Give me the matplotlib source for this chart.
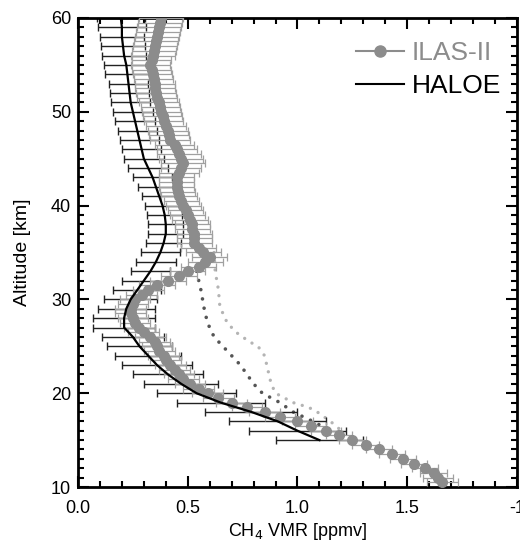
import numpy as np
import matplotlib
matplotlib.use("Agg")
import matplotlib.pyplot as plt
from matplotlib.lines import Line2D
from matplotlib.ticker import MultipleLocator

plt.rcParams["font.family"] = ["Liberation Sans", "DejaVu Sans"]

# ---- HALOE profile (ppmv) ----
haloe_alt = [15, 16, 17, 18, 19, 20, 21, 22, 23, 24, 25, 26, 27, 28, 29, 30,
             31, 32, 33, 34, 35, 36, 37, 38, 39, 40, 41, 42, 43, 44, 45, 46,
             47, 48, 49, 50, 51, 52, 53, 54, 55, 56, 57, 58, 59, 60]
haloe_vmr = [1.10, 1.00, 0.91, 0.79, 0.65, 0.54, 0.47, 0.41, 0.36, 0.32, 0.28,
             0.25, 0.21, 0.21, 0.22, 0.24, 0.27, 0.30, 0.33, 0.355, 0.375, 0.39,
             0.40, 0.40, 0.395, 0.385, 0.37, 0.355, 0.34, 0.32, 0.30, 0.29, 0.28,
             0.27, 0.26, 0.25, 0.24, 0.235, 0.23, 0.225, 0.22, 0.21, 0.205, 0.20,
             0.20, 0.195]
haloe_err = [0.20, 0.22, 0.22, 0.21, 0.20, 0.18, 0.17, 0.16, 0.16, 0.15, 0.15,
             0.14, 0.14, 0.14, 0.13, 0.12, 0.11, 0.10, 0.09, 0.09, 0.09, 0.08,
             0.08, 0.08, 0.08, 0.08, 0.08, 0.08, 0.09, 0.09, 0.09, 0.09, 0.09,
             0.09, 0.09, 0.09, 0.09, 0.09, 0.09, 0.10, 0.10, 0.10, 0.10, 0.10,
             0.11, 0.11]

# ---- ILAS-II profile (ppmv) ----
ilas_alt = [10.5, 11, 11.5, 12, 12.5, 13, 13.5, 14, 14.5, 15, 15.5, 16, 16.5,
            17, 17.5, 18, 18.5, 19, 19.5, 20, 20.5, 21, 21.5, 22, 22.5, 23,
            23.5, 24, 24.5, 25, 25.5, 26, 26.5, 27, 27.5, 28, 28.5, 29, 29.5,
            30, 30.5, 31, 31.5, 32, 32.5, 33, 33.5, 34, 34.5, 35, 35.5, 36,
            36.5, 37, 37.5, 38, 38.5, 39, 39.5, 40, 40.5, 41, 41.5, 42, 42.5,
            43, 43.5, 44, 44.5, 45, 45.5, 46, 46.5, 47, 47.5, 48, 48.5, 49,
            49.5, 50, 50.5, 51, 51.5, 52, 52.5, 53, 53.5, 54, 54.5, 55, 55.5,
            56, 56.5, 57, 57.5, 58, 58.5, 59, 59.5, 60]
ilas_vmr = [1.66, 1.64, 1.62, 1.58, 1.53, 1.48, 1.43, 1.37, 1.31, 1.25, 1.19,
            1.13, 1.06, 1.00, 0.92, 0.85, 0.77, 0.70, 0.64, 0.59, 0.55, 0.51,
            0.48, 0.46, 0.44, 0.42, 0.40, 0.39, 0.37, 0.36, 0.35, 0.33, 0.30,
            0.28, 0.26, 0.25, 0.24, 0.24, 0.25, 0.26, 0.29, 0.32, 0.36, 0.41,
            0.46, 0.50, 0.55, 0.58, 0.60, 0.57, 0.55, 0.53, 0.53, 0.53, 0.52,
            0.52, 0.51, 0.50, 0.49, 0.48, 0.47, 0.46, 0.455, 0.45, 0.45, 0.45,
            0.46, 0.47, 0.48, 0.47, 0.46, 0.45, 0.44, 0.42, 0.415, 0.41, 0.40,
            0.39, 0.385, 0.38, 0.375, 0.37, 0.36, 0.355, 0.35, 0.35, 0.345,
            0.34, 0.335, 0.33, 0.335, 0.34, 0.345, 0.35, 0.355, 0.36, 0.365,
            0.37, 0.375, 0.38]
ilas_err = [0.07, 0.07, 0.06, 0.06, 0.06, 0.06, 0.06, 0.06, 0.06, 0.06, 0.06,
            0.07, 0.07, 0.07, 0.07, 0.07, 0.07, 0.07, 0.07, 0.07, 0.07, 0.07,
            0.07, 0.07, 0.07, 0.07, 0.07, 0.07, 0.07, 0.07, 0.07, 0.07, 0.07,
            0.07, 0.07, 0.07, 0.07, 0.07, 0.07, 0.07, 0.07, 0.07, 0.08, 0.08,
            0.08, 0.08, 0.08, 0.08, 0.08, 0.08, 0.08, 0.08, 0.08, 0.08, 0.08,
            0.08, 0.08, 0.08, 0.08, 0.08, 0.08, 0.08, 0.08, 0.08, 0.08, 0.08,
            0.09, 0.09, 0.10, 0.10, 0.10, 0.09, 0.09, 0.09, 0.09, 0.09, 0.09,
            0.09, 0.09, 0.09, 0.09, 0.09, 0.09, 0.09, 0.09, 0.09, 0.09, 0.09,
            0.09, 0.09, 0.09, 0.10, 0.10, 0.10, 0.10, 0.10, 0.10, 0.10, 0.10,
            0.10]

# ---- dotted reference profiles ----
dark_alt = [33, 31, 29, 27.5, 26, 25, 24, 23, 22, 21, 20, 19, 18, 17, 16]
dark_vmr = [0.54, 0.56, 0.575, 0.59, 0.62, 0.66, 0.70, 0.74, 0.77, 0.80, 0.84,
            0.92, 0.98, 1.07, 1.15]
light_alt = [35, 33, 31, 29.5, 28.5, 27.5, 26.5, 25.5, 25, 24, 23, 22, 21, 20,
             19, 18.5, 18, 17, 16]
light_vmr = [0.62, 0.625, 0.64, 0.645, 0.66, 0.68, 0.72, 0.78, 0.82, 0.85, 0.86,
             0.87, 0.88, 0.90, 0.98, 1.05, 1.09, 1.15, 1.20]

xticks = [0.0, 0.5, 1.0, 1.5, 2.0]
xticklabels = ["0.0", "0.5", "1.0", "1.5", "-1"]
yticks = [10, 20, 30, 40, 50, 60]

fig = plt.figure(figsize=(5.2, 5.45), dpi=100)
ax = fig.add_axes([0.15, 0.1064, 0.8442, 0.8606])

GRAY = "#8c8c8c"

ax.plot(light_vmr, light_alt, linestyle=(0, (0.01, 2.6)), color="#b4b4b4",
        linewidth=2.4, dash_capstyle="round", zorder=1)
ax.plot(dark_vmr, dark_alt, linestyle=(0, (0.01, 2.6)), color="#555555",
        linewidth=2.6, dash_capstyle="round", zorder=1)

ax.errorbar(haloe_vmr, haloe_alt, xerr=haloe_err, fmt="none", ecolor="#222222",
            elinewidth=1.0, capsize=3, capthick=1.0, zorder=2)
ax.errorbar(ilas_vmr, ilas_alt, xerr=ilas_err, fmt="o", color=GRAY, ms=7,
            mec=GRAY, ecolor="#a0a0a0", elinewidth=0.9, capsize=3,
            capthick=0.9, zorder=3)
ax.plot(haloe_vmr, haloe_alt, color="black", linewidth=1.6, zorder=4)

ax.set_xlim(0, 2.0)
ax.set_ylim(10, 60)
ax.set_xticks(xticks)
ax.set_xticklabels(xticklabels)
ax.set_yticks(yticks)
ax.xaxis.set_minor_locator(MultipleLocator(0.1))
ax.yaxis.set_minor_locator(MultipleLocator(1))
ax.tick_params(which="both", direction="in", top=True, right=True,
               labelsize=13, width=1.5)
ax.tick_params(which="major", length=8)
ax.tick_params(which="minor", length=4)
ax.tick_params(axis="x", which="major", pad=9)
ax.tick_params(axis="y", which="major", pad=5)
for sp in ax.spines.values():
    sp.set_linewidth(2)

ax.set_xlabel("CH$_4$ VMR [ppmv]", fontsize=13, labelpad=3)
ax.set_ylabel("Altitude [km]", fontsize=14, labelpad=14)

handles = [
    Line2D([0], [0], color=GRAY, marker="o", ms=8, lw=1.5),
    Line2D([0], [0], color="black", lw=1.5),
]
ax.legend(handles, ["ILAS-II", "HALOE"], loc="upper right", frameon=False,
          fontsize=19, handlelength=1.8, handletextpad=0.3, labelspacing=0.35,
          bbox_to_anchor=(1.0, 0.985), borderaxespad=0.2,
          labelcolor=[GRAY, "black"])

fig.savefig("out.png", dpi=100)
